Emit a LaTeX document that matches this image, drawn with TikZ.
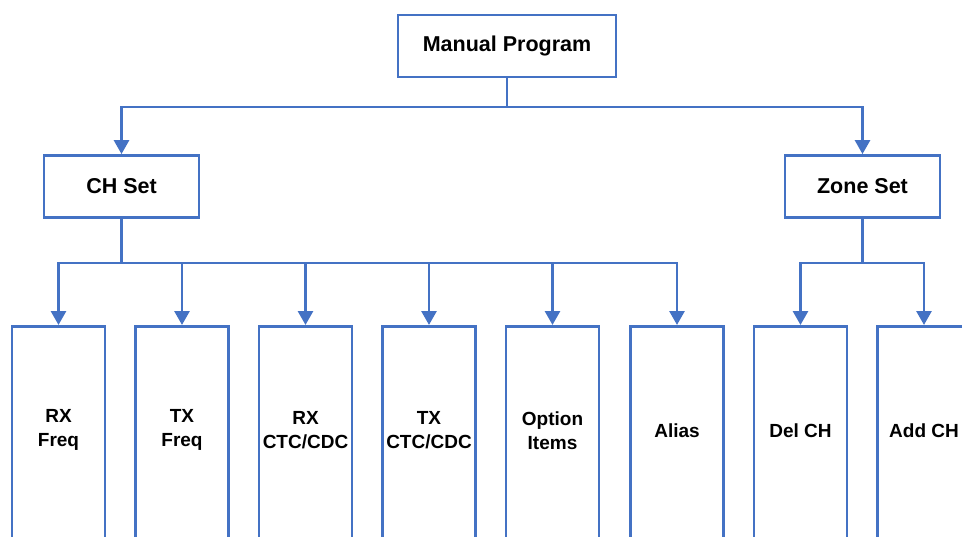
\documentclass[tikz,border=0pt]{standalone}
\usepackage{fontspec}
\setmainfont{Liberation Sans}
\usetikzlibrary{arrows.meta}
\definecolor{lnblue}{HTML}{4472C4}
\begin{document}
\begin{tikzpicture}[x=1pt,y=-1pt,
  box/.style={draw=lnblue,line width=2.8pt,fill=white,inner sep=0pt,align=center,font=\bfseries\fontsize{21.5}{24}\selectfont},
  leaf/.style={draw=lnblue,line width=2.8pt,fill=white,inner sep=0pt,anchor=north,minimum width=93pt,minimum height=230pt},
  lbl/.style={align=center,font=\bfseries\fontsize{19}{24}\selectfont},
  conn/.style={draw=lnblue,line width=2.8pt},
  arr/.style={conn,-{Triangle[length=14pt,width=15pt]}}]
\useasboundingbox (0,0) rectangle (962,536);
\clip (0,0) rectangle (962,536);
\node[box,minimum width=218pt,minimum height=62pt] (mp) at (507,46) {Manual Program};
\node[box,minimum width=155pt,minimum height=62pt] (ch) at (121.5,186.5) {CH Set};
\node[box,minimum width=155pt,minimum height=62pt] (zs) at (862.5,186.5) {Zone Set};
\node[leaf,label={[lbl,yshift=11pt]center:RX\\Freq}] (l1) at (58.5,325) {};
\node[leaf,label={[lbl,yshift=11pt]center:TX\\Freq}] (l2) at (182,325) {};
\node[leaf,label={[lbl,yshift=11pt]center:RX\\CTC/CDC}] (l3) at (305.5,325) {};
\node[leaf,label={[lbl,yshift=11pt]center:TX\\CTC/CDC}] (l4) at (429,325) {};
\node[leaf,label={[lbl,yshift=11pt]center:Option\\Items}] (l5) at (552.5,325) {};
\node[leaf,label={[lbl,yshift=11pt]center:Alias}] (l6) at (677,325) {};
\node[leaf,label={[lbl,yshift=11pt]center:Del CH}] (l7) at (800.5,325) {};
\node[leaf,label={[lbl,yshift=11pt]center:Add CH}] (l8) at (924,325) {};
\coordinate (b0) at (507,107);
\coordinate (b1) at (121.5,263);
\coordinate (b2) at (862.5,263);
\draw[conn] (mp.south) -- (b0);
\draw[arr] (b0) -| (ch.north);
\draw[arr] (b0) -| (zs.north);
\draw[conn] (ch.south) -- (b1);
\foreach \n in {l1,l2,l3,l4,l5,l6} \draw[arr] (b1) -| (\n.north);
\draw[conn] (zs.south) -- (b2);
\foreach \n in {l7,l8} \draw[arr] (b2) -| (\n.north);
\end{tikzpicture}
\end{document}
